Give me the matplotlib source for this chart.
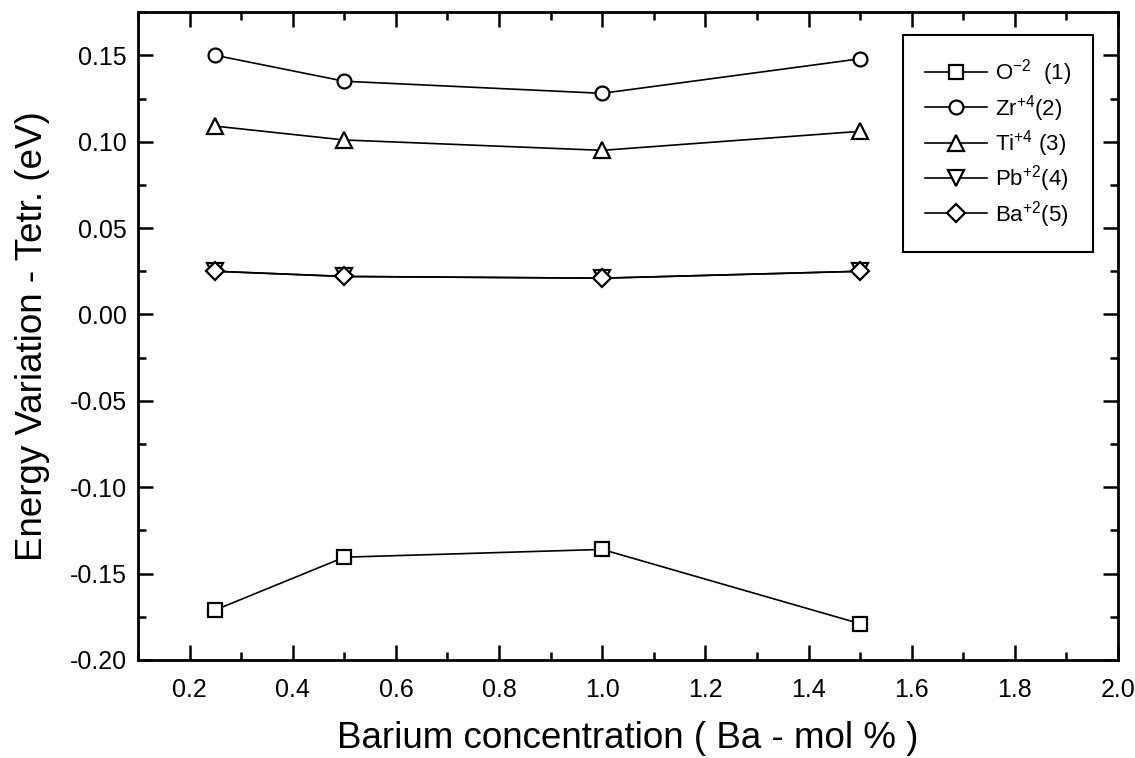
import matplotlib
matplotlib.use('Agg')
import matplotlib.pyplot as plt
from matplotlib.ticker import MultipleLocator

plt.rcParams['font.family'] = ['Liberation Sans', 'DejaVu Sans']
plt.rcParams['mathtext.fontset'] = 'custom'
plt.rcParams['mathtext.rm'] = 'Liberation Sans'
plt.rcParams['axes.unicode_minus'] = False

ba_conc = [0.25, 0.5, 1.0, 1.5]
o_vals = [-0.171, -0.1405, -0.136, -0.179]
zr_vals = [0.150, 0.135, 0.128, 0.148]
ti_vals = [0.109, 0.101, 0.095, 0.106]
pb_vals = [0.025, 0.022, 0.021, 0.025]
ba_vals = [0.025, 0.022, 0.021, 0.025]

labels = [r'O$^{\mathregular{-2}}$  (1)', r'Zr$^{\mathregular{+4}}$(2)',
          r'Ti$^{\mathregular{+4}}$ (3)', r'Pb$^{\mathregular{+2}}$(4)',
          r'Ba$^{\mathregular{+2}}$(5)']
series = [o_vals, zr_vals, ti_vals, pb_vals, ba_vals]
markers = ['s', 'o', '^', 'v', 'D']
msizes = [10, 10, 11, 11, 9]

fig = plt.figure(figsize=(11.35, 7.58), dpi=100)
ax = fig.add_axes([0.1216, 0.1293, 0.8634, 0.8547])

for vals, m, ms, lab in zip(series, markers, msizes, labels):
    ax.plot(ba_conc, vals, color='black', lw=1.2, marker=m, ms=ms,
            mfc='white', mec='black', mew=1.6, label=lab)

ax.set_xlim(0.1, 2.0)
ax.set_ylim(-0.2, 0.175)
ax.xaxis.set_major_locator(MultipleLocator(0.2))
ax.xaxis.set_minor_locator(MultipleLocator(0.1))
ax.yaxis.set_major_locator(MultipleLocator(0.05))
ax.yaxis.set_minor_locator(MultipleLocator(0.025))
ax.xaxis.set_major_formatter(plt.FormatStrFormatter('%.1f'))
ax.yaxis.set_major_formatter(plt.FormatStrFormatter('%.2f'))
ax.tick_params(which='both', direction='in', top=True, right=True,
               labelsize=18, width=1.8)
ax.tick_params(which='major', length=11)
ax.tick_params(which='minor', length=6)
ax.tick_params(axis='y', which='major', pad=8)
ax.tick_params(axis='x', which='major', pad=13)
for sp in ax.spines.values():
    sp.set_linewidth(2)

ax.set_xlabel('Barium concentration ( Ba - mol % )', fontsize=26.5, labelpad=14)
ax.set_ylabel('Energy Variation - Tetr. (eV)', fontsize=26.5, labelpad=14)

leg = ax.legend(loc='upper right', bbox_to_anchor=(0.975, 0.9645), fontsize=16,
                fancybox=False, edgecolor='black', framealpha=1,
                handlelength=2.8, handletextpad=0.35, labelspacing=0.2,
                borderpad=1.0, borderaxespad=0)
leg.get_frame().set_linewidth(1.5)

fig.savefig('out.png', dpi=100)
